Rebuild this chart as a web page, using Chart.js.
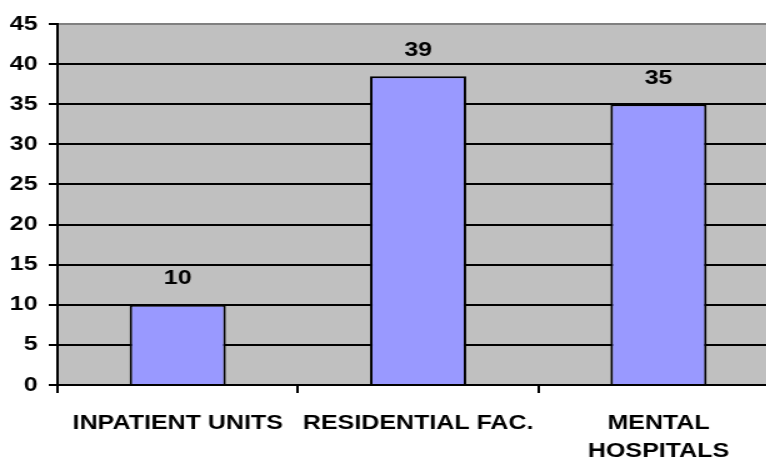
<!DOCTYPE html>
<html>
<head>
<meta charset="utf-8">
<script src="https://cdn.jsdelivr.net/npm/chart.js@4"></script>
<style>
  html, body { margin: 0; background: #fff; overflow: hidden; width: 766px; height: 465px; }
  /* the reference is stretched sideways, so draw narrow and widen it */
  #wrap { width: 623px; height: 465px; transform: scaleX(1.25); transform-origin: 0 0; }
</style>
</head>
<body>
<div id="wrap"><canvas id="facilityChart" width="623" height="465"></canvas></div>
<script>
const categories = ['INPATIENT UNITS', 'RESIDENTIAL FAC.', ['MENTAL', 'HOSPITALS']];
const counts = [10, 38.5, 35];
const yTicks = [0, 5, 10, 15, 20, 25, 30, 35, 40, 45];

const labelFont = '"Liberation Sans", Arial, sans-serif';

// gray plot area behind the bars
const plotBackground = {
  id: 'plotBackground',
  beforeDraw(chart) {
    const { ctx, chartArea } = chart;
    ctx.save();
    ctx.fillStyle = '#c0c0c0';
    ctx.fillRect(chartArea.left, chartArea.top, chartArea.right - chartArea.left, chartArea.bottom - chartArea.top);
    ctx.restore();
  }
};

// value printed above each bar
const valueLabels = {
  id: 'valueLabels',
  afterDatasetsDraw(chart) {
    const { ctx } = chart;
    const meta = chart.getDatasetMeta(0);
    ctx.save();
    ctx.font = 'bold 20px ' + labelFont;
    ctx.fillStyle = '#000';
    ctx.textAlign = 'center';
    ctx.textBaseline = 'middle';
    meta.data.forEach((bar, i) => {
      ctx.fillText(Math.round(counts[i]), bar.x, bar.y - 26);
    });
    ctx.restore();
  }
};

const ctx = document.getElementById('facilityChart');
new Chart(ctx, {
  type: 'bar',
  data: {
    labels: categories,
    datasets: [{
      data: counts,
      backgroundColor: '#9999ff',
      borderColor: '#000',
      borderWidth: 2,
      categoryPercentage: 1,
      barPercentage: 0.4
    }]
  },
  options: {
    responsive: false,
    animation: false,
    layout: { padding: { top: 24, right: 0 } },
    plugins: {
      legend: { display: false },
      tooltip: { enabled: false }
    },
    scales: {
      x: {
        grid: {
          offset: true,
          drawOnChartArea: false,
          drawTicks: true,
          tickLength: 8,
          color: '#000',
          lineWidth: 2
        },
        border: { color: '#000', width: 2 },
        ticks: {
          color: '#000',
          padding: 16,
          maxRotation: 0,
          autoSkip: false,
          font: { family: labelFont, size: 20, weight: 'bold', lineHeight: 1.4 }
        },
        afterFit(scale) { scale.height = 80; }
      },
      y: {
        min: 0,
        max: 45,
        afterBuildTicks(scale) { scale.ticks = yTicks.map(v => ({ value: v })); },
        grid: {
          color: c => (c.tick && c.tick.value === 45 ? '#808080' : '#000'),
          tickColor: '#000',
          lineWidth: 2,
          tickLength: 7
        },
        border: { color: '#000', width: 2 },
        ticks: {
          color: '#000',
          padding: 9,
          font: { family: labelFont, size: 20, weight: 'bold' }
        },
        afterFit(scale) { scale.width = 46; }
      }
    }
  },
  plugins: [plotBackground, valueLabels]
});
</script>
</body>
</html>
